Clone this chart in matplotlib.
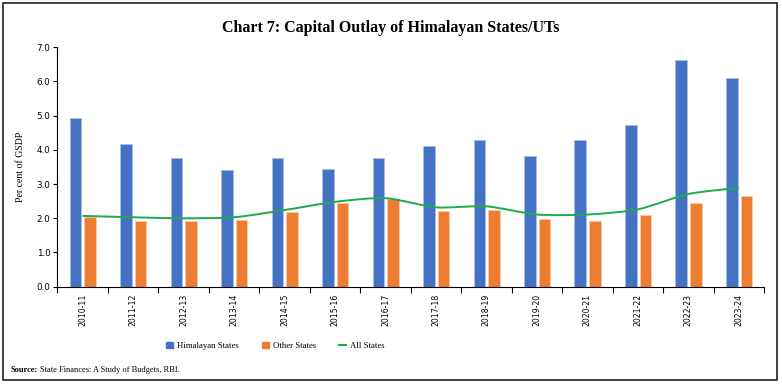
import matplotlib
matplotlib.use("Agg")
import matplotlib.pyplot as plt
import numpy as np
from matplotlib.path import Path
from matplotlib.patches import PathPatch, Rectangle, Patch
from matplotlib.lines import Line2D

years = ['2010-11', '2011-12', '2012-13', '2013-14', '2014-15', '2015-16', '2016-17',
         '2017-18', '2018-19', '2019-20', '2020-21', '2021-22', '2022-23', '2023-24']
himalayan = [4.92, 4.16, 3.77, 3.41, 3.77, 3.44, 3.76, 4.10, 4.29, 3.83, 4.29, 4.72, 6.63, 6.09]
other = [2.05, 1.92, 1.92, 1.95, 2.19, 2.46, 2.55, 2.22, 2.24, 1.98, 1.93, 2.10, 2.46, 2.64]
all_states = [2.07, 2.03, 2.00, 2.03, 2.24, 2.48, 2.59, 2.32, 2.35, 2.11, 2.11, 2.26, 2.71, 2.89]

c_blue = '#4472C4'
c_orange = '#ED7D31'
c_green = '#1FAA4B'

fig = plt.figure(figsize=(7.82, 3.87), dpi=100)
ax = fig.add_axes([0.0733, 0.2592, 0.9037, 0.6186])

x = np.arange(len(years))
w = 0.23
ax.bar(x - 0.14, himalayan, w, color=c_blue, edgecolor='#A9BDE3', linewidth=0.6)
ax.bar(x + 0.15, other, w, color=c_orange, edgecolor='#F8C9A8', linewidth=0.6)

# smoothed line, bezier segments through the points
pts = np.column_stack([x, all_states]).astype(float)
verts = [pts[0]]
codes = [Path.MOVETO]
t = 1.0 / 8
for i in range(len(pts) - 1):
    p0 = pts[i - 1] if i > 0 else pts[i]
    p1 = pts[i]
    p2 = pts[i + 1]
    p3 = pts[i + 2] if i + 2 < len(pts) else pts[i + 1]
    verts += [p1 + (p2 - p0) * t, p2 - (p3 - p1) * t, p2]
    codes += [Path.CURVE4] * 3
ax.add_patch(PathPatch(Path(verts, codes), facecolor='none', edgecolor=c_green, lw=1.4, zorder=3))

ax.set_xlim(-0.5, 13.5)
ax.set_ylim(0, 7)
yt = np.arange(0, 7.01, 1.0)
ax.set_yticks(yt)
ax.set_yticklabels(['%.1f' % v for v in yt], fontsize=6.3, family='DejaVu Sans')
ax.set_xticks(np.arange(-0.5, 13.6, 1.0))
ax.set_xticklabels([])
ax.set_xticks(x, minor=True)
ax.set_xticklabels(years, minor=True, rotation=90, fontsize=5.6, family='DejaVu Sans')
ax.tick_params(axis='x', which='minor', length=0, pad=5)
ax.tick_params(axis='x', which='major', length=4, width=0.8)
ax.tick_params(axis='y', length=3, width=0.8, pad=2)
for s in ['top', 'right']:
    ax.spines[s].set_visible(False)
for s in ['left', 'bottom']:
    ax.spines[s].set_linewidth(0.8)

ax.set_ylabel('Per cent of GSDP', fontsize=7, family='Liberation Serif', labelpad=8)

fig.text(0.5, 0.928, 'Chart 7: Capital Outlay of Himalayan States/UTs', ha='center', va='center',
         fontsize=11.5, family='Liberation Serif', weight='bold')

handles = [Patch(color=c_blue), Patch(color=c_orange), Line2D([0], [0], color=c_green, lw=1.5)]
fig.legend(handles, ['Himalayan States', 'Other States', 'All States'], ncol=3, frameon=False,
           loc='center', bbox_to_anchor=(0.352, 0.106), prop={'family': 'Liberation Serif', 'size': 6.3},
           handlelength=0.8, handleheight=0.8, columnspacing=2.6, handletextpad=0.5)

src = fig.text(0.013, 0.043, 'Source:', fontsize=6, family='Liberation Serif', weight='bold', va='center')
fig.canvas.draw()
bb = src.get_window_extent()
fig.text(bb.x1 / fig.bbox.width + 0.004, 0.043, 'State Finances: A Study of Budgets, RBI.', fontsize=6,
         family='Liberation Serif', va='center')

fig.add_artist(Rectangle((0.004, 0.018), 0.99, 0.975, transform=fig.transFigure, fill=False,
                         edgecolor='#222222', lw=1.2))

fig.savefig('out.png', dpi=100)
